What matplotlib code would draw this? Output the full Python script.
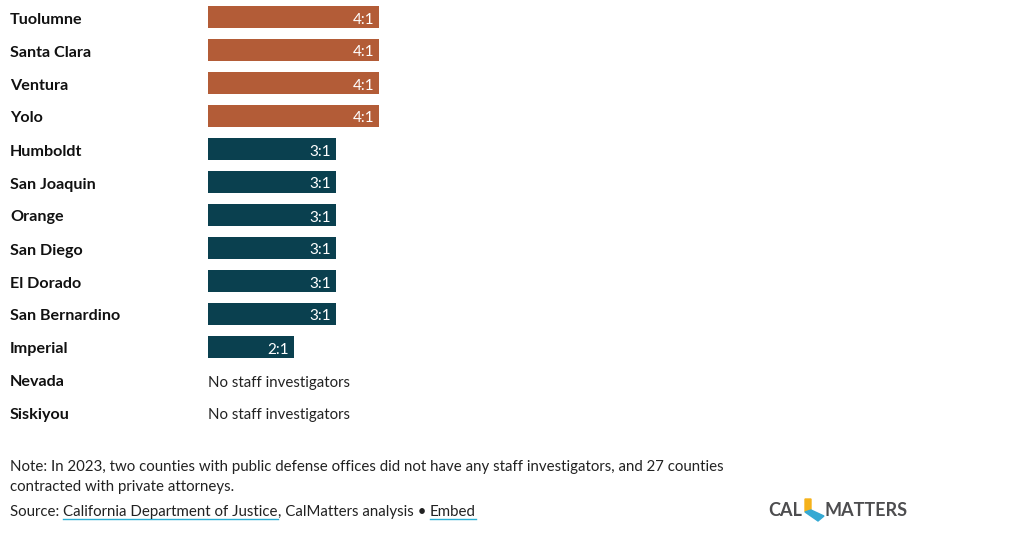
import matplotlib.pyplot as plt
import numpy as np
from matplotlib.patches import Polygon

counties = ['Tuolumne', 'Santa Clara', 'Ventura', 'Yolo', 'Humboldt', 'San Joaquin',
            'Orange', 'San Diego', 'El Dorado', 'San Bernardino', 'Imperial',
            'Nevada', 'Siskiyou']
ratios = [4, 4, 4, 4, 3, 3, 3, 3, 3, 3, 2, 0, 0]
labels = ['4:1', '4:1', '4:1', '4:1', '3:1', '3:1', '3:1', '3:1', '3:1', '3:1', '2:1',
          'No staff investigators', 'No staff investigators']

orange = '#b35c37'
teal = '#0a404f'
plt.rcParams['font.family'] = ['Lato', 'DejaVu Sans']

W, H = 1024, 545
fig = plt.figure(figsize=(W / 100, H / 100), dpi=100)

# axes placed in pixel terms: bars start at x=208, rows every 33px
ax = fig.add_axes([208 / W, 1 - 429 / H, 812 / W, 429 / H])
px_per_unit = 42.75
ax.set_xlim(0, 812 / px_per_unit)
ax.set_ylim(-17 / 33 + 13, -17 / 33)
ax.axis('off')

y = np.arange(len(counties))
colors = [orange if r >= 4 else teal for r in ratios]
ax.barh(y, ratios, height=22 / 33, color=colors)

for i, (c, r, lab) in enumerate(zip(counties, ratios, labels)):
    fig.text(10 / W, 1 - (18 + 33 * i) / H, c, fontsize=11.6, fontweight='bold',
             color='#111111', va='center_baseline', ha='left')
    if r > 0:
        ax.text(r - 5 / px_per_unit, i + 1 / 33, lab, color='white', fontsize=11,
                va='center_baseline', ha='right')
    else:
        ax.text(0, i + 1 / 33, lab, color='#222222', fontsize=10.8,
                va='center_baseline', ha='left')

fig.text(10 / W, 1 - 465 / H,
         'Note: In 2023, two counties with public defense offices did not have any staff investigators, and 27 counties',
         fontsize=10.8, color='#222222', va='center_baseline')
fig.text(10 / W, 1 - 485 / H, 'contracted with private attorneys.',
         fontsize=10.8, color='#222222', va='center_baseline')

# source line with underlined links
r = fig.canvas.get_renderer()
x = 10 / W
base = 1 - 516 / H
for part, link in [('Source: ', False), ('California Department of Justice', True),
                   (', CalMatters analysis \u2022 ', False), ('Embed', True)]:
    t = fig.text(x, base, part, fontsize=10.8, color='#222222', va='baseline')
    bb = t.get_window_extent(renderer=r)
    if link:
        fig.add_artist(plt.Line2D([bb.x0 / W, bb.x1 / W], [base - 2.5 / H, base - 2.5 / H],
                                  color='#2ab0d4', lw=1))
    x = bb.x1 / W

# logo
fig.text(768 / W, 1 - 511 / H, 'CAL', fontsize=13, fontweight='bold', color='#4d4d4f',
         va='center')
fig.text(825 / W, 1 - 511 / H, 'MATTERS', fontsize=13, fontweight='bold',
         color='#4d4d4f', va='center')
fig.add_artist(Polygon([[805 / W, 1 - 499 / H], [811 / W, 1 - 499 / H], [811 / W, 1 - 510 / H],
                        [805 / W, 1 - 512 / H]], closed=True, color='#f5b21b',
                       transform=fig.transFigure))
fig.add_artist(Polygon([[805 / W, 1 - 512 / H], [811 / W, 1 - 510 / H], [824 / W, 1 - 516 / H],
                        [818 / W, 1 - 521 / H]], closed=True, color='#35a9d3',
                       transform=fig.transFigure))

fig.savefig('out.png', dpi=100, facecolor='white')
